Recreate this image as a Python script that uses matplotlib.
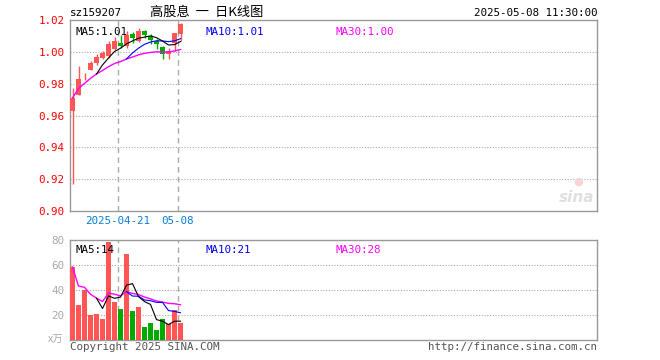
import numpy as np
import pandas as pd
import matplotlib
matplotlib.use("Agg")
import matplotlib.pyplot as plt

# daily candles, 2025-04-09 .. 2025-05-08
opens  = [0.963, 0.973, 0.9865, 0.9886, 0.9928, 0.9964, 0.9974, 1.0016, 1.0057, 1.0036,
          1.0109, 1.0068, 1.0130, 1.0099, 1.0068, 1.0032, 0.9984, 1.0057, 1.0109]
closes = [0.971, 0.983, 0.9865, 0.9928, 0.9970, 0.9995, 1.0047, 1.0068, 1.0036, 1.0103,
          1.0089, 1.0130, 1.0105, 1.0074, 1.0047, 0.9984, 1.0005, 1.0116, 1.0172]
highs  = [0.977, 0.991, 0.9866, 0.9941, 0.9985, 1.0005, 1.0068, 1.0095, 1.0103, 1.0134,
          1.0122, 1.0147, 1.0140, 1.0109, 1.0078, 1.0035, 1.0025, 1.0118, 1.0183]
lows   = [0.917, 0.973, 0.982, 0.9884, 0.9915, 0.9955, 0.9964, 1.0010, 1.0026, 1.0025,
          1.0053, 1.0060, 1.0090, 1.0047, 1.0020, 0.9957, 0.9957, 1.0005, 1.0068]
volumes = [58.4, 28, 40, 20, 21, 17, 78.4, 30.4, 24.8, 68.8,
           23.2, 26.4, 10.4, 13.6, 8, 16.8, 12.8, 24, 13.6]

date_ticks = [8, 18]
date_labels = ["2025-04-21", "05-08"]
price_ticks = [0.90, 0.92, 0.94, 0.96, 0.98, 1.00, 1.02]
vol_ticks = [20, 40, 60, 80]

RED = "#ff5555"
GREEN = "#00aa00"
GRID = "#aaaaaa"
MONO = "DejaVu Sans Mono"
FS = 7.8

W, H = 660, 360
fig = plt.figure(figsize=(W / 100, H / 100), dpi=100)

def px_axes(l, t, r, b):
    return fig.add_axes([l / W, 1 - b / H, (r - l) / W, (b - t) / H])

ax = px_axes(70, 20, 597, 211)
axv = px_axes(70, 240, 597, 340)

step = 6.0
bw = 5 / step
xmax = (597 - 70) / step
n = len(closes)
x = np.arange(n)
xc = x + bw / 2

up = [c >= o for o, c in zip(opens, closes)]
cols = [RED if u else GREEN for u in up]

# candles
for i in range(n):
    ax.vlines(xc[i], lows[i], highs[i], color=cols[i], lw=1, zorder=3)
    body = max(abs(closes[i] - opens[i]), 0.00018)
    ax.bar(x[i], body, bottom=min(opens[i], closes[i]), width=bw, align="edge",
           color=cols[i], lw=0, zorder=4)

cs = pd.Series(closes)
ma5 = cs.rolling(5).mean()
ma10 = cs.rolling(10).mean()
ma30 = cs.rolling(30, min_periods=1).mean()
ax.plot(xc, ma30, color="#ff00ff", lw=1, zorder=5)
ax.plot(xc, ma10, color="#0000ff", lw=0.8, zorder=5)
ax.plot(xc, ma5, color="black", lw=0.8, zorder=5)

# volume
axv.bar(x, volumes, width=bw, align="edge", color=cols, lw=0, zorder=3)
vs = pd.Series(volumes)
axv.plot(xc, vs.rolling(30, min_periods=1).mean(), color="#ff00ff", lw=1, zorder=5)
axv.plot(xc, vs.rolling(10).mean(), color="#0000ff", lw=0.8, zorder=5)
axv.plot(xc, vs.rolling(5).mean(), color="black", lw=0.8, zorder=5)

for a in (ax, axv):
    a.set_xlim(0, xmax)
    for s in a.spines.values():
        s.set_color("#999999")
        s.set_linewidth(1)
    a.set_xticks([])
    a.tick_params(axis="y", length=0, pad=4)
    for d in date_ticks:
        a.axvline(d, color=GRID, lw=1, ls=(0, (4, 3)), zorder=1)

ax.set_ylim(0.90, 1.02)
ax.set_yticks(price_ticks)
ax.set_yticklabels(["%.2f" % t for t in price_ticks], color="red",
                   fontfamily=MONO, fontsize=FS)
for t in price_ticks[1:-1]:
    ax.axhline(t, color=GRID, lw=0.8, ls=(0, (1, 1.5)), zorder=1)

axv.set_ylim(0, 80)
axv.set_yticks(vol_ticks)
axv.set_yticklabels([str(t) for t in vol_ticks], color="#aaaaaa",
                    fontfamily=MONO, fontsize=FS)
for t in vol_ticks[:-1]:
    axv.axhline(t, color=GRID, lw=0.8, ls=(0, (1, 1.5)), zorder=1)
axv.text(-0.012, 0, "x万", transform=axv.get_yaxis_transform(), ha="right",
         va="center", color="#aaaaaa", fontsize=7.5,
         family=["Noto Sans CJK SC", "DejaVu Sans"])

# date labels under the price panel
for d, lab in zip(date_ticks, date_labels):
    ax.text(d, -0.025, lab, transform=ax.get_xaxis_transform(), ha="center",
            va="top", color="#0a7fd6", fontfamily=MONO, fontsize=FS)

# header texts
fig.text(70 / W, 1 - 13 / H, "sz159207", ha="left", va="center",
         fontfamily=MONO, fontsize=FS)
fig.text(150 / W, 1 - 12 / H, "高股息  一  日K线图", ha="left", va="center",
         family=["Noto Sans CJK SC", "DejaVu Sans"], fontsize=9.5)
fig.text(597 / W, 1 - 13 / H, "2025-05-08 11:30:00", ha="right", va="center",
         fontfamily=MONO, fontsize=FS)

# MA legends
ax.text(5 / 527, 0.965, "MA5:%.2f" % ma5.iloc[-1], transform=ax.transAxes,
        ha="left", va="top", fontfamily=MONO, fontsize=FS, color="black")
ax.text(135 / 527, 0.965, "MA10:%.2f" % ma10.iloc[-1], transform=ax.transAxes,
        ha="left", va="top", fontfamily=MONO, fontsize=FS, color="#0000ff")
ax.text(265 / 527, 0.965, "MA30:%.2f" % ma30.iloc[-1], transform=ax.transAxes,
        ha="left", va="top", fontfamily=MONO, fontsize=FS, color="#ff00ff")
axv.text(5 / 527, 0.95, "MA5:14", transform=axv.transAxes,
         ha="left", va="top", fontfamily=MONO, fontsize=FS, color="black")
axv.text(135 / 527, 0.95, "MA10:21", transform=axv.transAxes,
         ha="left", va="top", fontfamily=MONO, fontsize=FS, color="#0000ff")
axv.text(265 / 527, 0.95, "MA30:28", transform=axv.transAxes,
         ha="left", va="top", fontfamily=MONO, fontsize=FS, color="#ff00ff")

# footer
fig.text(70 / W, 1 - 347 / H, "Copyright 2025 SINA.COM", ha="left", va="center",
         fontfamily=MONO, fontsize=FS, color="#555555")
fig.text(597 / W, 1 - 347 / H, "http://finance.sina.com.cn", ha="right",
         va="center", fontfamily=MONO, fontsize=FS, color="#555555")

# faint sina watermark
ax.text(0.995, 0.03, "sina", transform=ax.transAxes, ha="right", va="bottom",
        fontsize=11, fontstyle="italic", fontweight="bold", color="#e0e0e0")
ax.text(0.965, 0.13, "●", transform=ax.transAxes, ha="center", va="bottom",
        fontsize=8, color="#f8d4d4")

fig.savefig("out.png", dpi=100)
